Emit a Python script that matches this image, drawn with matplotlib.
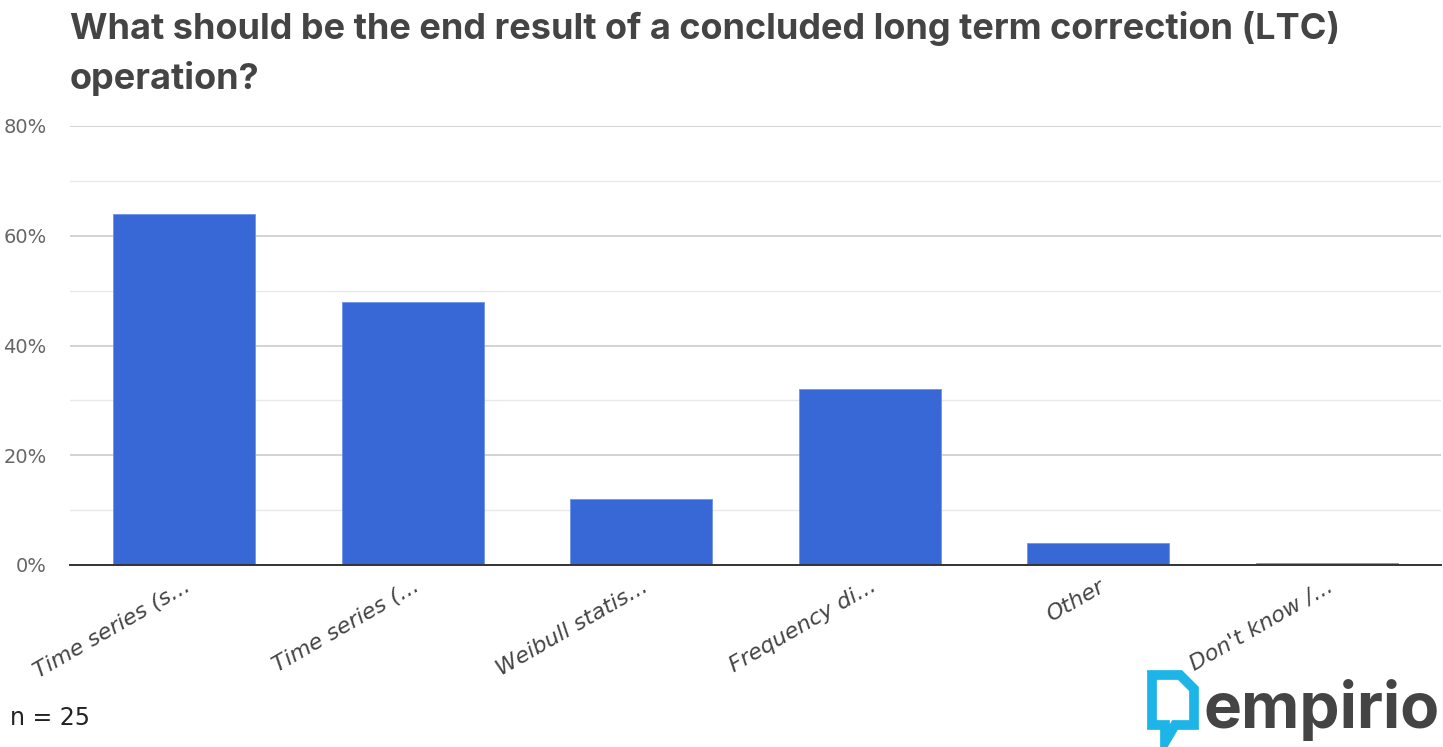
import matplotlib
matplotlib.use("Agg")
import matplotlib.pyplot as plt
from matplotlib.patches import Polygon
from matplotlib.ticker import MultipleLocator, FuncFormatter

# survey answers (share of respondents, %)
categories = ["Time series (s...", "Time series (...", "Weibull statis...",
              "Frequency di...", "Other", "Don't know /..."]
shares = [64, 48, 12, 32, 4, 0.4]
title = "What should be the end result of a concluded long term correction (LTC)\noperation?"
n_label = "n = 25"

W, H = 1443, 747
fig = plt.figure(figsize=(W / 100, H / 100), dpi=100)
ax = fig.add_axes([70 / W, 1 - 565 / H, (1441 - 70) / W, (565 - 126) / H])

x = range(len(categories))
ax.bar(x, shares, width=0.62, color="#3867d6", edgecolor="#6f93e8", linewidth=0.6, zorder=3)

ax.set_xlim(-0.5, len(categories) - 0.5)
ax.set_ylim(0, 80)
ax.yaxis.set_major_locator(MultipleLocator(20))
ax.yaxis.set_minor_locator(MultipleLocator(10))
ax.yaxis.set_major_formatter(FuncFormatter(lambda v, p: f"{v:.0f}%"))
ax.grid(axis="y", which="major", color="#cccccc", linewidth=1.2, zorder=0)
ax.grid(axis="y", which="minor", color="#e8e8e8", linewidth=1.0, zorder=0)
for s in ["top", "right", "left"]:
    ax.spines[s].set_visible(False)
ax.spines["bottom"].set_color("#333333")
ax.spines["bottom"].set_linewidth(1.4)
ax.spines["bottom"].set_zorder(4)
ax.tick_params(axis="y", which="both", length=0, pad=17, labelsize=14, labelcolor="#666666")
ax.tick_params(axis="x", length=0, pad=8)
ax.set_xticks(list(x))
ax.set_xticklabels(categories, rotation=30, ha="right", rotation_mode="anchor",
                   fontsize=16, style="italic", color="#444444")

fig.text(70 / W, 1 - 11 / H, title, ha="left", va="top", fontsize=26,
         fontweight="bold", color="#444444", family="Inter", linespacing=1.55)
fig.text(10 / W, 1 - 718 / H, n_label, ha="left", va="center", fontsize=17, color="#222222")

# logo
icon = [(1152, 675), (1180, 675), (1194, 689), (1194, 725), (1175, 725),
        (1165, 742), (1165, 725), (1152, 725)]
fig.patches.append(Polygon([(px / W, 1 - py / H) for px, py in icon], closed=True,
                           transform=fig.transFigure, facecolor="none",
                           edgecolor="#1db5e8", linewidth=7, joinstyle="miter"))
fig.text(1440 / W, 1 - 728 / H, "empirio", ha="right", va="baseline", fontsize=46,
         fontweight="bold", color="#444444", family="Inter")

fig.savefig("out.png", dpi=100)
